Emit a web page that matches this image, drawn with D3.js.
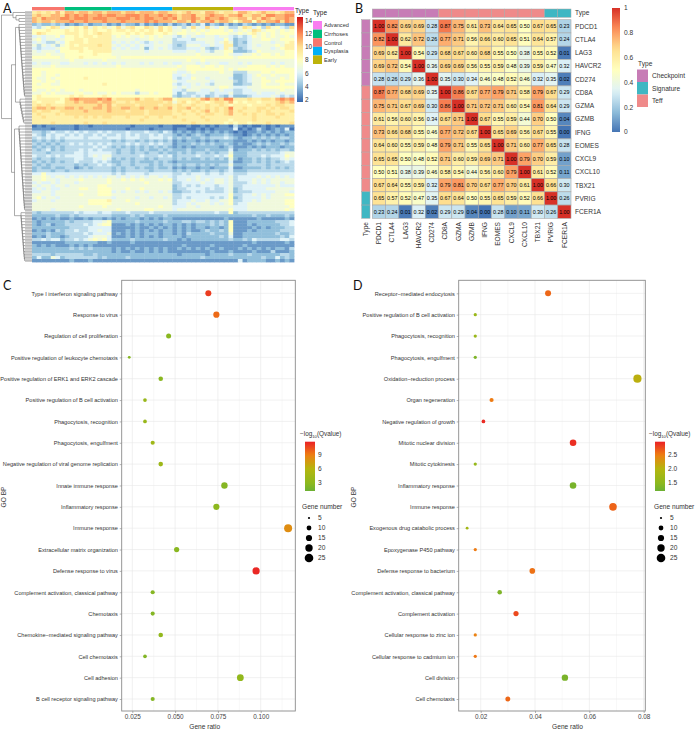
<!DOCTYPE html>
<html><head><meta charset="utf-8">
<script src="https://cdn.jsdelivr.net/npm/d3@7"></script>
<style>
html,body{margin:0;padding:0;background:#fff}
svg{display:block}
text{font-family:"Liberation Sans",Arial,sans-serif}
.letter{font-family:"Lato","Open Sans",sans-serif;font-size:12.5px;fill:#111}
</style></head><body>
<svg id="c" width="698" height="730"></svg>
<script>
// ---------- Panel A data ----------
const stageOrder = ["Control","Cirrhoses","Dysplasia","Early","Advanced"];
const stageCounts = [7,10,13,13,13];
const stageLegend = ["Advanced","Cirrhoses","Control","Dysplasia","Early"];
const exprTicks = [2,4,6,8,10,12,14];
// expression per gene (row) and sample (column); hex-like digit = value, groups follow stageOrder
const exprRows = [
"9a9a9b9 bbabbabbab bbabbabbbabba a9abaa9bba9aa 9bba9abaa9abb",
"abaabba cbcbcbbcbc cbbcccbcbbcbc babbcaabcbbab bcaabbaccbbcc",
"bacbbbc cbcccbcccb bcccbcbccbbcb cabbcbacbbcba abb9bacbabbcb",
"babbabb bcbbcbbbcb bbcbbbbcbcbbb abbacabbcabba 8abb8babbcacb",
"4544545 3434534453 4354435343435 3453546354353 4354343434433",
"6578a96 7898a79897 8a79a88a97a89 6757a76a76875 57a9685a7865a",
"8889888 9898989889 8998989898a89 7787878788878 6787a97887878",
"8a98888 9998989a99 8889898998898 7887787888887 7878978787888",
"6767786 8898998999 7878778787877 6576766776776 5656878787787",
"7867767 8899899999 7777767787777 5666577776686 4556778877888",
"6765576 8999899999 6767676567677 5556666776797 4546777767789",
"7576757 8989999a99 7676767667776 5457776676699 4556767778799",
"6566678 8999899999 6767667467676 5556667545697 5456777767899",
"7677768 8889889999 7777777677777 6667767657788 4445687777788",
"7778777 8888889888 7777777777777 7777787777787 6677878878788",
"8888887 8889888888 8788888888888 8888888888888 7888888888888",
"7777777 7877777787 7777777777777 7778778777777 7777777777777",
"6766776 6777676767 6767776767767 6677767677667 7676777767677",
"7777877 7777777777 7877777777777 7878887887877 7778888787877",
"8888888 8888888888 8888888888888 8778888888878 7888888888888",
"8878888 8888888888 8888888888888 7667877777877 5557778878888",
"8878878 8888888888 8888888888888 6676777777777 4456787787778",
"8778788 8888988888 8888888888888 6566877677776 4456778777878",
"8878878 8888888888 8888888888888 7667777767777 5456778878888",
"8788778 8888888898 8888888888888 6566767657777 4455778777877",
"8888888 8888888888 8888888888888 7676777777887 6667778888888",
"8778787 8887888888 8888878888888 6657776676766 5566777777877",
"7787877 7788778778 7877757787888 6465566656667 5566676667677",
"8988888 8989888898 8888888888888 5455656456546 4445666676565",
"8999998 abcbbbbcbc 9aaaab9aa9abb 8999a9bcabacc 999a99aa9bcbc",
"9899988 aababbbabb a99a9aaaaaa9a 79a89a989aa9b 898998999abab",
"9a9a999 aaaaaaabab 9aaaa9aaaa9aa 9a99a99a99a98 9998999a9aa99",
"abbabaa bbabaabbab aabbaabaabaab 9aab9a9a9a9ac 99a99aa9a9aa9",
"a9aa99a aaaabaaaab aaa9aaa9aaaaa 9a99a9ab9a9ab 9a999a9a9999a",
"9a999a9 aaaaaaaaaa aaaaaaa9aaaaa 99a99a9aa99ab 99a9a99aa9a99",
"99a9999 99a9a9a9aa 999a999a99a99 a99999a999999 9999a9999a999",
"9999999 9999999999 999999a999999 99a9999a99998 9999a99999999",
"9999a99 9999a999a9 9999999999999 9999a99999989 8998999a9999a",
"2323333 3323323333 3333233333233 2223223232332 5323223232333",
"3333233 3323333333 3332333323333 2332232323333 6232353234362",
"5545655 6565655656 5556555655465 3434343434343 2323343434344",
"6546566 5656556565 5656565565655 4343454344454 3323434343434",
"5656565 6666566656 6656665566656 4545445455565 4344545454554",
"4545454 5555555555 4545545454545 3434434343444 3334343434434",
"5454545 5656565656 5556565565655 3444545454454 3433454544545",
"4545454 5555556565 4545454545454 3434344444345 3334343444344",
"5456454 5556565655 5455454544545 4445444544446 3444545454554",
"5554555 5566566666 5455455455454 4545455454557 4445555555677",
"6556565 6666567677 5555556555656 4555565556568 4445556566687",
"5455455 5566556676 4545455454555 4545445454547 4344545455676",
"4545454 5565556565 4455454445454 3444444444446 3344545454565",
"5454555 5545455656 5455455545455 4545545454557 4445555455555",
"4544544 5534545555 4545545445445 3434434434446 3344445454545",
"4555455 4555555555 4545555545555 4545445455456 4445555555555",
"6686666 6666666666 5656666566666 5565666566566 5556666666666",
"7787677 6767676767 7676767677676 5666676666667 5666676767676",
"7787767 7778777778 7787878777878 5667676767767 5666767677777",
"6766767 7767777778 7777777877777 5566667667767 5556767677677",
"7677677 6777777887 7777777777777 4565656665667 5566666667666",
"6767667 7778877888 7778778777777 4556666565567 4566666777777",
"6677677 7777777888 6767767677676 4455656555567 4555666667776",
"7777677 7778777888 7777777777777 5566666666668 5566767677788",
"7867767 7777777777 6777767767767 5565666656568 4566667677777",
"6777677 7777788889 7778777777777 5666766766778 5566767777788",
"7777777 7777788888 7777787777777 5667677767678 5667777777788",
"7777777 7778777787 7777777777877 6667767777777 6667777777778",
"7777677 7777777777 7877777887777 6777777777778 6667777777787",
"5455555 5565666566 5556555565555 5555555556558 4555555555555",
"4444454 4545555555 4444545444454 4444444444444 4444544544454",
"3434343 3433434434 3434443434344 3333333333343 3333343333343",
"4344444 5455556678 4444454444454 4455455454548 3334444445556",
"4345344 5555656788 3334343434344 3434344454548 3334344444556",
"4444444 4555566666 3333343343434 3434344344348 3333434344455",
"3434354 5565566766 3334343434344 3434334544548 3334344444555",
"4445444 5555656667 3434343444344 3435444454447 3344444445445",
"3435443 4555567776 3334343434344 4434444444546 3344444444546",
"5565664 5565678786 4444544444454 4343444444445 4454655555665",
"3333333 4444444334 3333433333333 3333333333333 3333433333343",
"4343433 3434343333 3333333333333 3343333343333 3343333333333",
"4444444 4545454444 3434343434343 3434343433433 3434343434435",
"4444444 4444444444 3433433434343 3333333343334 3333433353334",
"5555455 5555445444 4444444444444 4344444344445 4445444444554",
"4644764 5555555454 4445444444444 4444445444444 4444445446454",
"3333333 3433343333 3333333333333 3333333333333 3634444334343"
];
// row clusters of the dendrogram: first row, last row
const dendroClusters = [[0,3],[4,28],[29,37],[38,66],[67,83]];

// ---------- Panel B data ----------
const genes = ["PDCD1","CTLA4","LAG3","HAVCR2","CD274","CD8A","GZMA","GZMB","IFNG","EOMES","CXCL9","CXCL10","TBX21","PVRIG","FCER1A"];
const geneTypes = ["Checkpoint","Checkpoint","Checkpoint","Checkpoint","Checkpoint","Teff","Teff","Teff","Teff","Teff","Teff","Teff","Teff","Signature","Signature"];
const typeLegend = ["Checkpoint","Signature","Teff"];
const corr = [
[1.00,.82,.69,.69,.28,.87,.75,.61,.73,.64,.65,.50,.67,.65,.23],
[.82,1.00,.62,.72,.26,.77,.71,.56,.66,.60,.65,.51,.64,.57,.24],
[.69,.62,1.00,.54,.29,.68,.67,.60,.68,.55,.50,.38,.55,.52,.01],
[.69,.72,.54,1.00,.36,.69,.69,.56,.55,.59,.48,.39,.59,.47,.32],
[.28,.26,.29,.36,1.00,.35,.30,.34,.46,.48,.52,.46,.32,.35,.02],
[.87,.77,.68,.69,.35,1.00,.86,.67,.77,.79,.71,.58,.79,.67,.29],
[.75,.71,.67,.69,.30,.86,1.00,.71,.72,.71,.60,.54,.81,.64,.29],
[.61,.56,.60,.56,.34,.67,.71,1.00,.67,.55,.59,.44,.70,.50,.04],
[.73,.66,.68,.55,.46,.77,.72,.67,1.00,.65,.69,.56,.67,.55,.00],
[.64,.60,.55,.59,.48,.79,.71,.55,.65,1.00,.71,.60,.77,.65,.28],
[.65,.65,.50,.48,.52,.71,.60,.59,.69,.71,1.00,.79,.70,.59,.10],
[.50,.51,.38,.39,.46,.58,.54,.44,.56,.60,.79,1.00,.61,.52,.11],
[.67,.64,.55,.59,.32,.79,.81,.70,.67,.77,.70,.61,1.00,.66,.30],
[.65,.57,.52,.47,.35,.67,.64,.50,.55,.65,.59,.52,.66,1.00,.26],
[.23,.24,.01,.32,.02,.29,.29,.04,.00,.28,.10,.11,.30,.26,1.00]
];
const corrTicks = [0,.2,.4,.6,.8,1];

// ---------- Panel C data ----------
const termsC = ["Type I interferon signaling pathway","Response to virus","Regulation of cell proliferation","Positive regulation of leukocyte chemotaxis","Positive regulation of ERK1 and ERK2 cascade","Positive regulation of B cell activation","Phagocytosis, recognition","Phagocytosis, engulfment","Negative regulation of viral genome replication","Innate immune response","Inflammatory response","Immune response","Extracellular matrix organization","Defense response to virus","Complement activation, classical pathway","Chemotaxis","Chemokine\u2212mediated signaling pathway","Cell chemotaxis","Cell adhesion","B cell receptor signaling pathway"];
const ratioC = [.0694,.0741,.0462,.0232,.0416,.0324,.0324,.0369,.0416,.0788,.0741,.116,.0509,.0973,.0369,.0369,.0416,.0324,.0881,.0369];
const genesC = [15,16,10,5,9,7,7,8,9,17,16,25,11,21,8,8,9,7,19,8];
const qC = [11,9.6,2.8,2.6,2.8,3.8,3.8,4.4,4.2,2.6,3,8.2,2.8,11.6,2.6,2.5,3.4,2.4,3.4,2.5];
const ticksC = [.025,.05,.075,.1];
const minorC = [.0375,.0625,.0875,.1125];
const qTicksC = [3,6,9];

// ---------- Panel D data ----------
const termsD = ["Receptor\u2212mediated endocytosis","Positive regulation of B cell activation","Phagocytosis, recognition","Phagocytosis, engulfment","Oxidation\u2212reduction process","Organ regeneration","Negative regulation of growth","Mitotic nuclear division","Mitotic cytokinesis","Inflammatory response","Immune response","Exogenous drug catabolic process","Epoxygenase P450 pathway","Defense response to bacterium","Complement activation, classical pathway","Complement activation","Cellular response to zinc ion","Cellular response to cadmium ion","Cell division","Cell chemotaxis"];
const ratioD = [.0448,.018,.018,.018,.0777,.024,.021,.054,.018,.054,.0687,.015,.018,.039,.027,.033,.018,.018,.051,.03];
const genesD = [15,6,6,6,26,8,7,18,6,18,23,5,6,13,9,11,6,6,17,10];
const qD = [2.6,1.65,1.65,1.35,2.05,2.5,2.9,2.88,1.6,1.3,2.62,1.75,2.5,2.55,1.35,2.75,2.45,2.52,1.32,2.6];
const ticksD = [.02,.04,.06,.08];
const minorD = [.03,.05,.07];
const qTicksD = [1.5,2,2.5];

const sizeLegend = [5,10,15,20,25];

// ---------- helpers ----------
const svg = d3.select("#c");
const hexVal = ch => parseInt(ch,16);
const heatColors = ["#4575B4","#91BFDB","#E0F3F8","#FFFFBF","#FEE090","#FC8D59","#D73027"];
const ramp = (lo,hi)=>d3.scaleLinear().domain(d3.range(7).map(i=>lo+(hi-lo)*i/6)).range(heatColors);
function colorbar(g,id,x,y,w,h,color,lo,hi,ticks,fmt,fs,lx){
  const grad=svg.append("defs").append("linearGradient").attr("id",id).attr("x1",0).attr("x2",0).attr("y1",1).attr("y2",0);
  d3.range(0,1.001,.05).forEach(t=>grad.append("stop").attr("offset",t).attr("stop-color",color(lo+(hi-lo)*t)));
  g.append("rect").attr("x",x).attr("y",y).attr("width",w).attr("height",h).attr("fill",`url(#${id})`);
  const sc=d3.scaleLinear().domain([lo,hi]).range([y+h,y]);
  g.selectAll(null).data(ticks).join("text").attr("x",lx).attr("y",d=>sc(d)+fs*.36).attr("font-size",fs).attr("fill","#333").text(fmt);
  return sc;
}

// ---------- Panel A ----------
(function(){
  const g=svg.append("g");
  const rows=exprRows.map(s=>s.replace(/ /g,"").split("").map(hexVal));
  const nCol=d3.sum(stageCounts);
  const x=d3.scaleBand().domain(d3.range(nCol)).range([32,294]);
  const y=d3.scaleBand().domain(d3.range(rows.length)).range([11,262]);
  const col=ramp(2,14);
  const cells=[];rows.forEach((r,i)=>r.forEach((v,j)=>cells.push({i,j,v})));
  const soft=svg.append("defs").append("filter").attr("id","soft").attr("x",0).attr("y",0).attr("width",1).attr("height",1);
  soft.append("feGaussianBlur").attr("stdDeviation",.55);
  g.append("g").attr("filter","url(#soft)").selectAll("rect").data(cells).join("rect")
    .attr("x",d=>x(d.j)).attr("y",d=>y(d.i)).attr("width",x.bandwidth()+.4).attr("height",y.bandwidth()+.4).attr("fill",d=>col(d.v));
  // stage annotation
  const stageCol=d3.scaleOrdinal().domain(stageOrder).range(["#F8766D","#00BF7D","#00B0F6","#BDB30B","#F97DF0"]);
  let c=0;
  stageOrder.forEach((s,k)=>{
    g.append("rect").attr("x",x(c)).attr("y",7).attr("width",x.step()*stageCounts[k]).attr("height",3.4).attr("fill",stageCol(s));
    c+=stageCounts[k];
  });
  // dendrogram
  const leafEnd=25, ya=i=>y(i)+y.bandwidth()/2;
  function ladder(a,b,h0){
    if(a===b) return {leaf:a,h:leafEnd};
    return {h:h0,children:[{leaf:a,h:leafEnd},ladder(a+1,b,h0+(leafEnd-h0)/(b-a+1))]};
  }
  const starts=[13,19,20,19,21];
  const cl=dendroClusters.map((d,i)=>ladder(d[0],d[1],starts[i]));
  const tree={h:1.5,children:[cl[0],{h:11.5,children:[{h:15.5,children:[cl[1],cl[2]]},{h:14.5,children:[cl[3],cl[4]]}]}]};
  const root=d3.hierarchy(tree);
  root.eachAfter(n=>{ n.py=n.data.leaf!==undefined?ya(n.data.leaf):(n.children[0].py+n.children[n.children.length-1].py)/2; });
  const den=g.append("g").attr("stroke","#666").attr("stroke-width",.55).attr("fill","none");
  root.descendants().forEach(n=>{
    if(!n.children) return;
    den.append("line").attr("x1",n.data.h).attr("x2",n.data.h).attr("y1",n.children[0].py).attr("y2",n.children[1].py);
    n.children.forEach(k=>den.append("line").attr("x1",n.data.h).attr("x2",k.data.h).attr("y1",k.py).attr("y2",k.py));
  });
  // leaves
  g.append("g").selectAll("rect").data(rows.map((_,i)=>i)).join("rect")
    .attr("x",leafEnd).attr("width",32-leafEnd).attr("y",d=>y(d)+.25).attr("height",y.bandwidth()-.5).attr("fill","#bdbdbd");
  // legends
  g.append("text").attr("x",295).attr("y",13).attr("font-size",6.5).attr("fill","#222").text("Type");
  colorbar(g,"gA",297,17,6,85,col,1.6,14.6,exprTicks,d=>d,6.5,305);
  g.append("text").attr("x",313).attr("y",15).attr("font-size",6.5).attr("fill","#222").text("Type");
  const legY=d3.scaleBand().domain(stageLegend).range([21,64]);
  g.selectAll(null).data(stageLegend).join("rect").attr("x",313).attr("y",d=>legY(d)).attr("width",9).attr("height",legY.bandwidth()).attr("fill",d=>stageCol(d));
  g.selectAll(null).data(stageLegend).join("text").attr("x",324).attr("y",d=>legY(d)+legY.bandwidth()/2+2).attr("font-size",5.6).attr("fill","#333").text(d=>d);
})();

// ---------- Panel B ----------
(function(){
  const g=svg.append("g");
  const x=d3.scaleBand().domain(genes).range([372.3,571]);
  const y=d3.scaleBand().domain(genes).range([19.7,218.3]);
  const col=ramp(0,1);
  const typeCol=d3.scaleOrdinal().domain(typeLegend).range(["#C77CB6","#3FB7C3","#EF8A8A"]);
  const bd="#a8a8a8";
  const cells=[];corr.forEach((r,i)=>r.forEach((v,j)=>cells.push({a:genes[i],b:genes[j],v})));
  g.selectAll(null).data(cells).join("rect").attr("x",d=>x(d.b)).attr("y",d=>y(d.a)).attr("width",x.bandwidth()).attr("height",y.bandwidth())
    .attr("fill",d=>col(d.v)).attr("stroke",bd).attr("stroke-width",.6);
  g.selectAll(null).data(cells).join("text").attr("x",d=>x(d.b)+x.bandwidth()/2).attr("y",d=>y(d.a)+y.bandwidth()/2+1.9)
    .attr("text-anchor","middle").attr("font-size",5.4).attr("fill","#000").text(d=>d.v.toFixed(2));
  g.selectAll(null).data(genes).join("rect").attr("x",d=>x(d)).attr("y",9).attr("width",x.bandwidth()).attr("height",8.3)
    .attr("fill",(d,i)=>typeCol(geneTypes[i])).attr("stroke",bd).attr("stroke-width",.5);
  g.selectAll(null).data(genes).join("rect").attr("x",361.7).attr("y",d=>y(d)).attr("width",8.3).attr("height",y.bandwidth())
    .attr("fill",(d,i)=>typeCol(geneTypes[i])).attr("stroke",bd).attr("stroke-width",.5);
  g.selectAll(null).data(genes).join("text").attr("x",575).attr("y",d=>y(d)+y.bandwidth()/2+2.3).attr("font-size",6.6).attr("fill","#333").text(d=>d);
  g.append("text").attr("x",575).attr("y",15.3).attr("font-size",6.6).attr("fill","#333").text("Type");
  g.selectAll(null).data(genes).join("text").attr("transform",d=>`translate(${x(d)+x.bandwidth()/2+2.3},222) rotate(-90)`)
    .attr("text-anchor","end").attr("font-size",6.6).attr("fill","#333").text(d=>d);
  g.append("text").attr("transform","translate(368.2,222) rotate(-90)").attr("text-anchor","end").attr("font-size",6.6).attr("fill","#333").text("Type");
  colorbar(g,"gB",612,8,8,124,col,0,1,corrTicks,d=>d===0||d===1?d:d3.format(".1f")(d),6.6,624);
  g.append("text").attr("x",638).attr("y",66).attr("font-size",6.6).attr("fill","#333").text("Type");
  const ly=d3.scaleBand().domain(typeLegend).range([69.5,107]);
  g.selectAll(null).data(typeLegend).join("rect").attr("x",637).attr("y",d=>ly(d)).attr("width",11).attr("height",ly.bandwidth()).attr("fill",d=>typeCol(d));
  g.selectAll(null).data(typeLegend).join("text").attr("x",652).attr("y",d=>ly(d)+ly.bandwidth()/2+2.3).attr("font-size",6.6).attr("fill","#333").text(d=>d);
})();

// ---------- Panels C, D ----------
function dotPanel(o){
  const g=svg.append("g");
  const t=280.3,b=711;
  const x=d3.scaleLinear().domain(o.dom).range([o.l,o.r]);
  const y=d3.scalePoint().domain(o.terms).range([293.3,699]);
  const [qlo,qhi]=o.q;
  const col=d3.scaleLinear().domain([0,.16,.45,.73,1].map(p=>qlo+(qhi-qlo)*p)).range(["#6CB033","#8DB81E","#B4B60E","#EE7F12","#EA2126"]).clamp(true);
  const size=d3.scaleLinear().domain([5,10,15,20,25]).range([1.4,2.5,3,3.5,4]);
  // grid
  g.append("g").selectAll("line").data(o.minor).join("line").attr("x1",d=>x(d)).attr("x2",d=>x(d)).attr("y1",t).attr("y2",b).attr("stroke","#f0f0f0").attr("stroke-width",.5);
  g.append("g").selectAll("line").data(o.ticks).join("line").attr("x1",d=>x(d)).attr("x2",d=>x(d)).attr("y1",t).attr("y2",b).attr("stroke","#e8e8e8").attr("stroke-width",.6);
  g.append("g").selectAll("line").data(o.terms).join("line").attr("x1",o.l).attr("x2",o.r).attr("y1",d=>y(d)).attr("y2",d=>y(d)).attr("stroke","#e8e8e8").attr("stroke-width",.6);
  // axes
  const ax=g.append("g").attr("transform",`translate(0,${b})`).call(d3.axisBottom(x).tickValues(o.ticks).tickFormat(o.fmt).tickSize(2).tickPadding(1.5));
  ax.select(".domain").remove();
  ax.selectAll("text").attr("font-size",6.4).attr("fill","#444").attr("font-family","Liberation Sans");
  ax.selectAll("line").attr("stroke","#666").attr("stroke-width",.5);
  const ay=g.append("g").attr("transform",`translate(${o.l},0)`).call(d3.axisLeft(y).tickSize(2).tickPadding(1.8));
  ay.select(".domain").remove();
  ay.selectAll("text").attr("font-size",5.6).attr("fill","#333").attr("font-family","Liberation Sans");
  ay.selectAll("line").attr("stroke","#666").attr("stroke-width",.5);
  // points
  g.append("g").selectAll("circle").data(o.terms).join("circle").attr("cx",(d,i)=>x(o.ratio[i])).attr("cy",d=>y(d))
    .attr("r",(d,i)=>size(o.genes[i])).attr("fill",(d,i)=>col(o.qv[i]));
  g.append("rect").attr("x",o.l).attr("y",t).attr("width",o.r-o.l).attr("height",b-t).attr("fill","none").attr("stroke","#8a8a8a").attr("stroke-width",.9);
  // titles
  g.append("text").attr("x",(o.l+o.r)/2+o.xt).attr("y",729).attr("text-anchor","middle").attr("font-size",6.6).attr("fill","#333").text("Gene ratio");
  g.append("text").attr("transform",`translate(${o.yt},497) rotate(-90)`).attr("text-anchor","middle").attr("font-size",6.6).attr("fill","#333").text("GO BP");
  // legends
  const tt=g.append("text").attr("x",o.tx).attr("y",436).attr("font-size",6.4).attr("fill","#333");
  tt.append("tspan").text("\u2212log");
  tt.append("tspan").attr("font-size",4.2).attr("dy",1.5).text("10");
  tt.append("tspan").attr("dy",-1.5).text("(Qvalue)");
  colorbar(g,o.id,o.bx,441.7,10,49.3,col,qlo,qhi,o.qTicks,o.qFmt,6.6,o.bx+13);
  g.append("text").attr("x",o.gx).attr("y",509).attr("font-size",6.6).attr("fill","#333").text("Gene number");
  const sy=d3.scalePoint().domain(sizeLegend).range([518,558]);
  g.selectAll(null).data(sizeLegend).join("circle").attr("cx",o.gx+7).attr("cy",d=>sy(d)).attr("r",(d,i)=>[1.1,2.4,3.1,3.7,4.3][i]).attr("fill","#000");
  g.selectAll(null).data(sizeLegend).join("text").attr("x",o.gx+16).attr("y",d=>sy(d)+2.3).attr("font-size",6.6).attr("fill","#333").text(d=>d);
}
dotPanel({terms:termsC,ratio:ratioC,genes:genesC,qv:qC,ticks:ticksC,minor:minorC,dom:[.0188,.1202],l:121.7,r:295.3,q:[1.3,11.8],qTicks:qTicksC,qFmt:d=>d,fmt:d3.format(".3f"),xt:-3.8,yt:6,tx:300,bx:305,gx:302,id:"gC"});
dotPanel({terms:termsD,ratio:ratioD,genes:genesD,qv:qD,ticks:ticksD,minor:minorD,dom:[.0119,.0806],l:458.7,r:645.3,q:[1.2,2.95],qTicks:qTicksD,qFmt:d3.format(".1f"),fmt:d3.format(".2f"),xt:15.5,yt:356,tx:649,bx:655,gx:654,id:"gD"});

// panel letters
const letters=[["A",3,12.5],["B",355,12.5],["C",3,290],["D",353,290]];
svg.selectAll(".letter").data(letters).join("text").attr("class","letter").attr("x",d=>d[1]).attr("y",d=>d[2]).text(d=>d[0]);
</script>
</body></html>
